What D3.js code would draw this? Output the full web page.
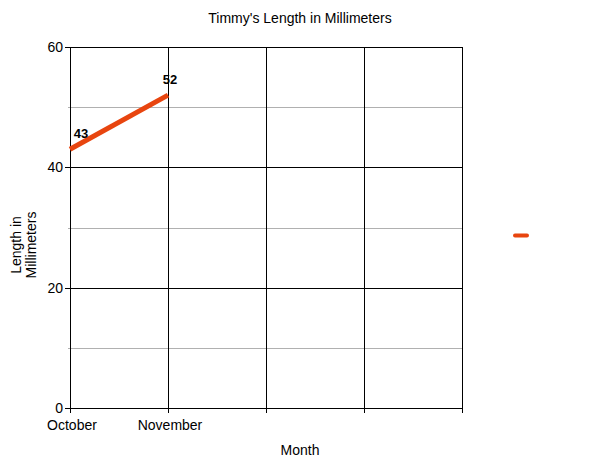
<!DOCTYPE html>
<html>
<head>
<meta charset="utf-8">
<script src="https://cdn.jsdelivr.net/npm/d3@7"></script>
<style>
body{margin:0;background:#fff;}
text{font-family:"Liberation Sans",Arial,sans-serif;fill:#000;}
</style>
</head>
<body>
<svg id="chart" width="600" height="463"></svg>
<script>
// data
var months = ["October", "November", "", "", ""];
var lengths = [43, 52];
var yTicks = [0, 20, 40, 60];
var yMinor = [10, 30, 50];

var lineColor = "#e8450f";
var plotLeft = 70, plotRight = 462, plotTop = 47, plotBottom = 408;

var svg = d3.select("#chart");

var x = d3.scalePoint()
	.domain(d3.range(months.length))
	.range([plotLeft, plotRight]);

var y = d3.scaleLinear()
	.domain([0, 60])
	.range([plotBottom, plotTop]);

// minor grid
svg.append("g").selectAll("line")
	.data(yMinor)
	.enter().append("line")
	.attr("x1", plotLeft - 2).attr("x2", plotRight)
	.attr("y1", function(d){ return Math.round(y(d)) + 0.5; })
	.attr("y2", function(d){ return Math.round(y(d)) + 0.5; })
	.style("stroke", "#b0b0b0").style("stroke-width", 1);

// major grid + ticks
svg.append("g").selectAll("line")
	.data(yTicks)
	.enter().append("line")
	.attr("x1", plotLeft - 5).attr("x2", plotRight)
	.attr("y1", function(d){ return Math.round(y(d)) + 0.5; })
	.attr("y2", function(d){ return Math.round(y(d)) + 0.5; })
	.style("stroke", "#000").style("stroke-width", 1);

svg.append("g").selectAll("line")
	.data(d3.range(months.length))
	.enter().append("line")
	.attr("x1", function(d){ return Math.round(x(d)) + 0.5; })
	.attr("x2", function(d){ return Math.round(x(d)) + 0.5; })
	.attr("y1", plotTop).attr("y2", plotBottom + 5)
	.style("stroke", "#000").style("stroke-width", 1);

// y tick labels
svg.append("g").selectAll("text")
	.data(yTicks)
	.enter().append("text")
	.attr("x", plotLeft - 7)
	.attr("y", function(d){ return y(d) + 5; })
	.attr("text-anchor", "end")
	.style("font-size", "14px")
	.text(function(d){ return d; });

// x tick labels
svg.append("g").selectAll("text")
	.data(months)
	.enter().append("text")
	.attr("x", function(d, i){ return x(i) + 2; })
	.attr("y", plotBottom + 22)
	.attr("text-anchor", "middle")
	.style("font-size", "14px")
	.text(function(d){ return d; });

// line
var line = d3.line()
	.x(function(d, i){ return x(i); })
	.y(function(d){ return y(d); });

svg.append("path")
	.datum(lengths)
	.attr("d", line)
	.style("fill", "none")
	.style("stroke", lineColor)
	.style("stroke-width", 5)
	.style("stroke-linecap", "butt");

// point labels
svg.append("g").selectAll("text")
	.data(lengths)
	.enter().append("text")
	.attr("x", function(d, i){ return Math.max(x(i) + 2, plotLeft + 11); })
	.attr("y", function(d){ return y(d) - 11; })
	.attr("text-anchor", "middle")
	.style("font-size", "13px")
	.style("font-weight", "bold")
	.text(function(d){ return d; });

// title
svg.append("text")
	.attr("x", 300).attr("y", 23)
	.attr("text-anchor", "middle")
	.style("font-size", "14px")
	.text("Timmy's Length in Millimeters");

// axis titles
svg.append("text")
	.attr("x", 300).attr("y", 455)
	.attr("text-anchor", "middle")
	.style("font-size", "14px")
	.text("Month");

var yl = svg.append("text")
	.attr("transform", "translate(21,245) rotate(-90)")
	.attr("text-anchor", "middle")
	.style("font-size", "14px");
yl.append("tspan").attr("x", 0).attr("dy", 0).text("Length in");
yl.append("tspan").attr("x", 0).attr("dy", 15).text("Millimeters");

// legend swatch (no label)
svg.append("line")
	.attr("x1", 515).attr("x2", 527)
	.attr("y1", 235.5).attr("y2", 235.5)
	.style("stroke", lineColor)
	.style("stroke-width", 4)
	.style("stroke-linecap", "round");
</script>
</body>
</html>
